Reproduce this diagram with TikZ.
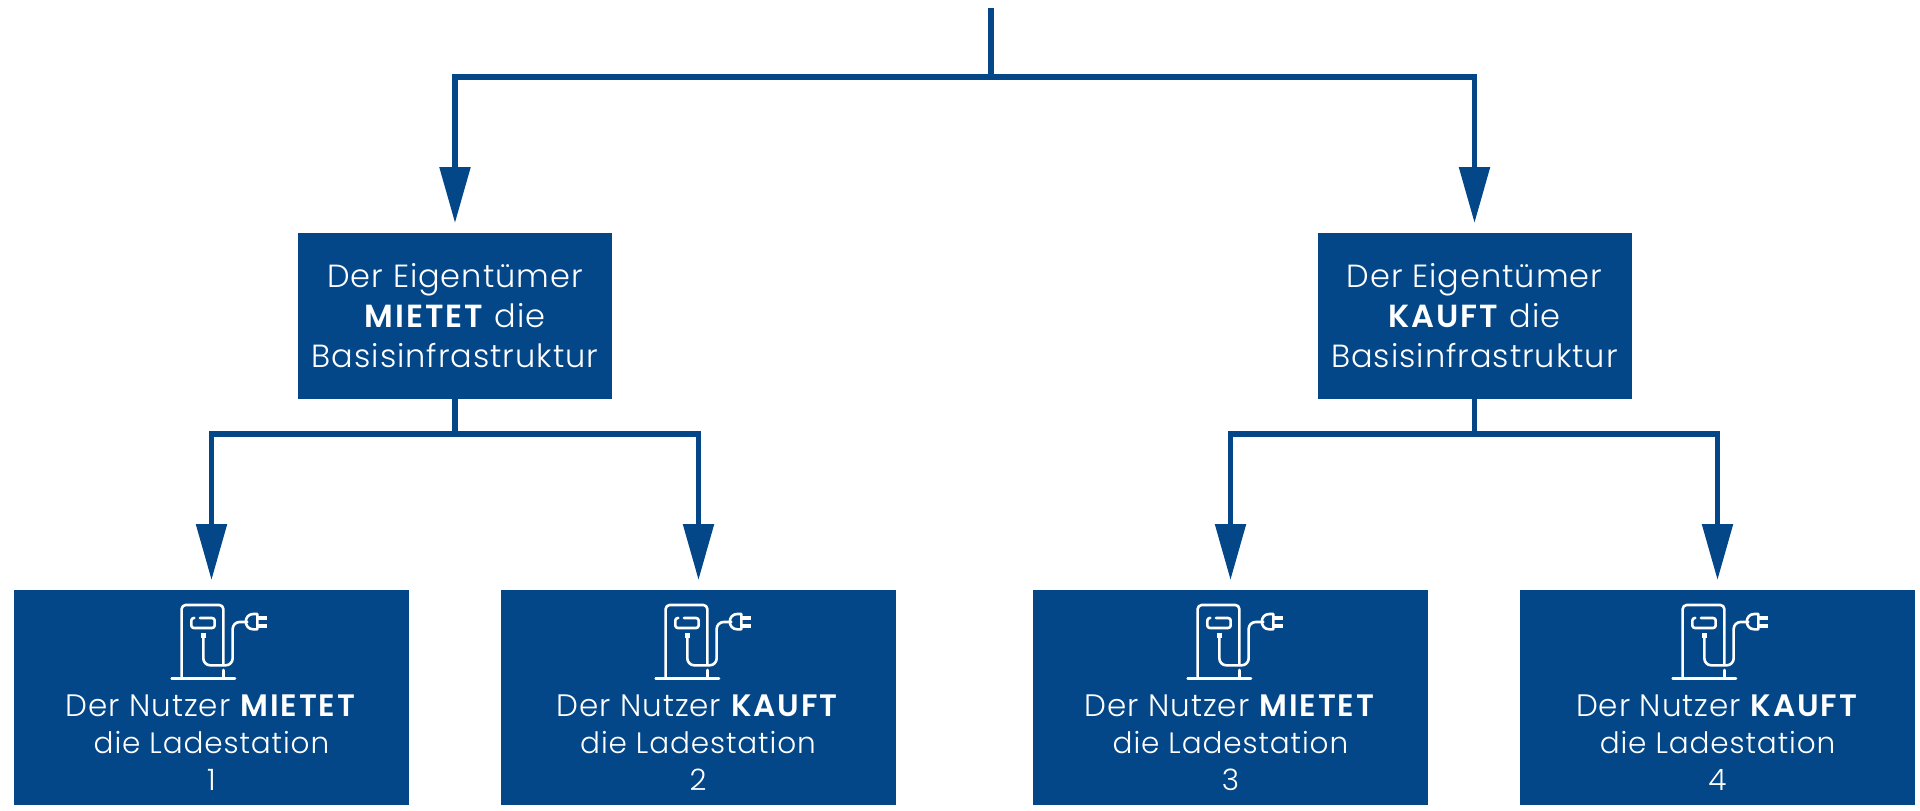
\documentclass[tikz,border=0pt]{standalone}
\usepackage{fontspec}
\setmainfont{Poppins}[UprightFont=* Light,BoldFont=* SemiBold,LetterSpace=3,BoldFeatures={LetterSpace=6}]
\usetikzlibrary{arrows.meta,calc}
\definecolor{navy}{HTML}{034788}
\newcommand{\lowerfirst}{\fontsize{31}{37}\selectfont}
\newcommand{\lowerrest}{\fontsize{29.5}{37}\selectfont}
\tikzset{
  x=1pt,y=-1pt,
  bluebox/.style={fill=navy,draw=none,inner sep=0pt,outer sep=0pt,anchor=north west},
  upperlabel/.style={text=white,align=center,font=\fontsize{32}{40}\selectfont,inner sep=0pt},
  lowerlabel/.style={text=white,align=center,font=\lowerrest,inner sep=0pt},
  conn/.style={draw=navy,line width=5.4pt,line join=miter},
  arrowconn/.style={conn,shorten >=10pt,-{Triangle[length=56pt,width=30pt,fill=navy]}},
  iconline/.style={draw=white,line width=2.6pt,line cap=round,line join=round},
  pics/charger/.style={code={
    \begin{scope}[x=0.3333pt,y=-0.3333pt]
      \draw[iconline] (35,248) -- (225,248);
      \draw[iconline,rounded corners=4pt] (65,248) -- (65,27) -- (190,27) -- (190,205);
      \draw[iconline] (190,222) -- (190,248);
      \draw[iconline,rounded corners=2.5pt] (120,66) -- (164,66) -- (164,96) -- (94,96) -- (94,66) -- (103,66);
      \fill[white] (122,112) rectangle (138,126);
      \draw[iconline,rounded corners=7pt] (130,120) -- (130,208) -- (218,208) -- (218,78) -- (262,78);
      \draw[iconline] (292,54) -- (280,54) .. controls (250,54) and (250,100) .. (280,100) -- (292,100) -- cycle;
      \fill[white] (292,60) rectangle (322,71);
      \fill[white] (292,84) rectangle (322,95);
    \end{scope}
  }}
}
\begin{document}
\begin{tikzpicture}
\useasboundingbox (0,0) rectangle (1920,811);
% upper boxes
\node[bluebox,minimum width=314pt,minimum height=166pt] (A) at (298,233) {};
\node[bluebox,minimum width=314pt,minimum height=166pt] (B) at (1317.5,233) {};
\node[upperlabel] (Atext) at (455,316) {Der Eigentümer\\\textbf{MIETET} die\\Basisinfrastruktur};
\node[upperlabel] (Btext) at (1474.5,316) {Der Eigentümer\\\textbf{KAUFT} die\\Basisinfrastruktur};
% lower boxes
\node[bluebox,minimum width=395pt,minimum height=215pt] (C1) at (14,590) {};
\node[bluebox,minimum width=395pt,minimum height=215pt] (C2) at (501,590) {};
\node[bluebox,minimum width=395pt,minimum height=215pt] (C3) at (1033,590) {};
\node[bluebox,minimum width=395pt,minimum height=215pt] (C4) at (1520,590) {};
\node[lowerlabel] (C1text) at (211.5,743) {\lowerfirst Der Nutzer \textbf{MIETET}\\\lowerrest die Ladestation\\1};
\node[lowerlabel] (C2text) at (698,743) {\lowerfirst Der Nutzer \textbf{KAUFT}\\\lowerrest die Ladestation\\2};
\node[lowerlabel] (C3text) at (1230.5,743) {\lowerfirst Der Nutzer \textbf{MIETET}\\\lowerrest die Ladestation\\3};
\node[lowerlabel] (C4text) at (1717.5,743) {\lowerfirst Der Nutzer \textbf{KAUFT}\\\lowerrest die Ladestation\\4};
% icons
\pic at (160,596) {charger};
\pic at (644,596) {charger};
\pic at (1176,596) {charger};
\pic at (1661,596) {charger};
% connectors
\coordinate (top) at (991,8);
\coordinate (topj) at (991,77);
\coordinate (Aj) at (455,434);
\coordinate (Bj) at (1474.5,434);
\draw[conn] (top) -- (topj);
\draw[arrowconn] (topj) -| (A.north);
\draw[arrowconn] (topj) -| (B.north);
\draw[conn] (A.south) -- (Aj);
\draw[conn] (B.south) -- (Bj);
\draw[arrowconn] (Aj) -| (C1.north);
\draw[arrowconn] (Aj) -| (C2.north);
\draw[arrowconn] (Bj) -| (C3.north);
\draw[arrowconn] (Bj) -| (C4.north);
\end{tikzpicture}
\end{document}
